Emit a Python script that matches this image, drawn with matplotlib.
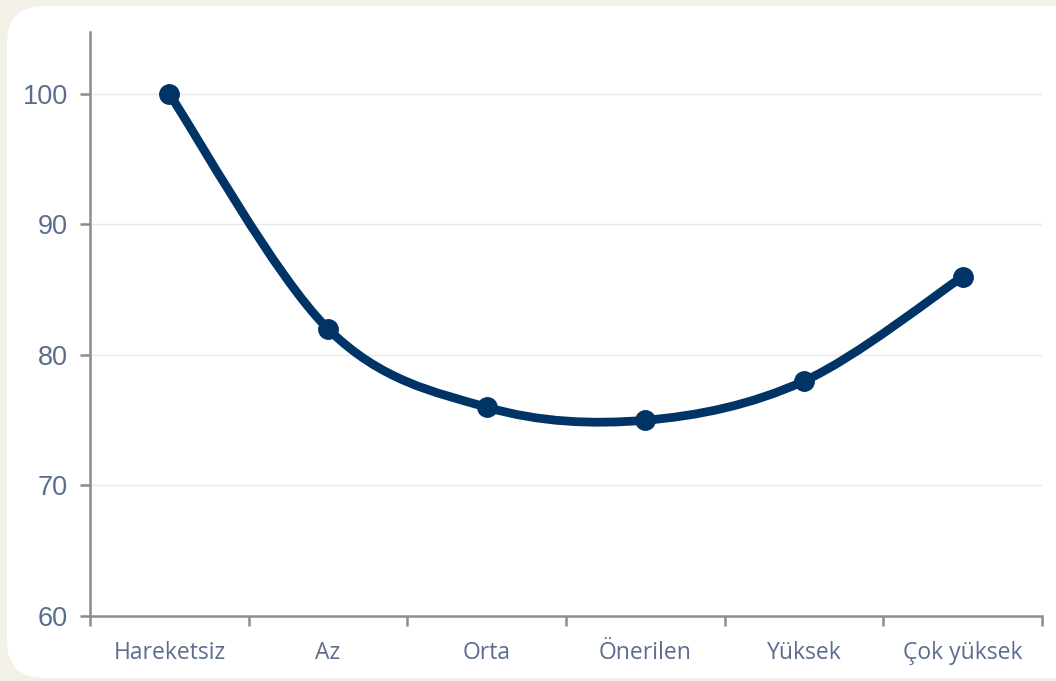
import matplotlib.pyplot as plt
from matplotlib.path import Path
from matplotlib.patches import PathPatch, FancyBboxPatch

categories = ["Hareketsiz", "Az", "Orta", "Önerilen", "Yüksek", "Çok yüksek"]
values = [100, 82, 76, 75, 78, 86]
yticks = [60, 70, 80, 90, 100]

navy = "#003466"
grey = "#8c8c8c"
label_col = "#5b6d8c"

fig = plt.figure(figsize=(10.56, 6.81), dpi=100)
fig.patch.set_facecolor("#f3f0e7")

# white rounded card behind the axes
card = FancyBboxPatch((7 / 1056, 3 / 681), 1.2, 675 / 681 - 3 / 681,
                      boxstyle="round,pad=0,rounding_size=0.035",
                      transform=fig.transFigure, facecolor="white",
                      edgecolor="none", mutation_aspect=1056 / 681, zorder=-5)
fig.patches.append(card)

ax = fig.add_axes([90 / 1056, 65 / 681, 952 / 1056, 584 / 681])
ax.set_facecolor("none")

# smoothed line (catmull-rom style bezier through the points)
xs = list(range(len(values)))
verts = [(xs[0], values[0])]
codes = [Path.MOVETO]
n = len(values)
for i in range(n - 1):
    p0 = (xs[max(i - 1, 0)], values[max(i - 1, 0)])
    p1 = (xs[i], values[i])
    p2 = (xs[i + 1], values[i + 1])
    p3 = (xs[min(i + 2, n - 1)], values[min(i + 2, n - 1)])
    c1 = (p1[0] + (p2[0] - p0[0]) / 6, p1[1] + (p2[1] - p0[1]) / 6)
    c2 = (p2[0] - (p3[0] - p1[0]) / 6, p2[1] - (p3[1] - p1[1]) / 6)
    verts += [c1, c2, p2]
    codes += [Path.CURVE4] * 3
ax.add_patch(PathPatch(Path(verts, codes), facecolor="none", edgecolor=navy,
                       lw=6.3, capstyle="round", joinstyle="round", zorder=3))
ax.plot(xs, values, "o", color=navy, ms=14, zorder=4)

ax.set_xlim(-0.5, n - 0.5)
ax.set_ylim(60, 104.75)

ax.set_yticks(yticks)
ax.set_yticklabels([str(v) for v in yticks])
ax.set_xticks([i - 0.5 for i in range(n + 1)])
ax.set_xticklabels([])
ax.set_xticks(xs, minor=True)
ax.set_xticklabels(categories, minor=True)

for v in yticks[1:]:
    ax.axhline(v, color="#e6e9ee", lw=1, zorder=1)

for s in ["top", "right"]:
    ax.spines[s].set_visible(False)
for s in ["left", "bottom"]:
    ax.spines[s].set_color(grey)
    ax.spines[s].set_linewidth(1.8)

ax.tick_params(axis="y", length=7, width=1.8, color=grey, pad=9,
               labelsize=19.5, labelcolor=label_col)
ax.tick_params(axis="x", which="major", length=7, width=1.8, color=grey)
ax.tick_params(axis="x", which="minor", length=0, pad=18,
               labelsize=16.5, labelcolor=label_col)
for lab in ax.get_yticklabels():
    lab.set_fontfamily("Liberation Sans")
for lab in ax.get_xticklabels(minor=True):
    lab.set_fontfamily("Open Sans")

fig.savefig("out.png", dpi=100)
